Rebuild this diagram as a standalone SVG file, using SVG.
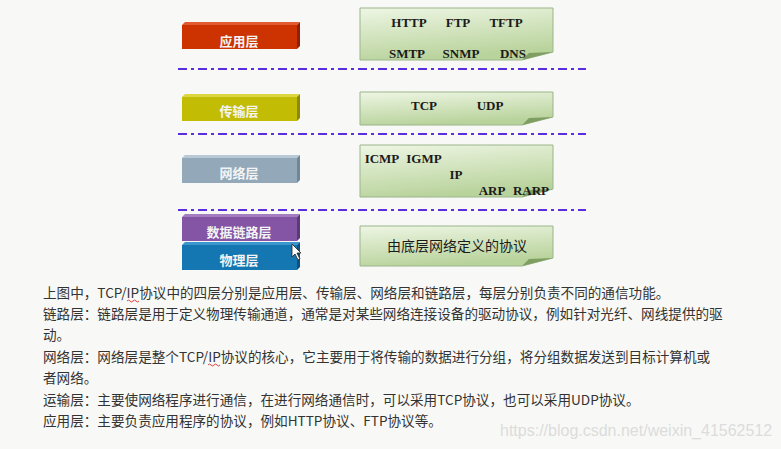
<svg xmlns="http://www.w3.org/2000/svg" width="781" height="449" viewBox="0 0 781 449">
<defs>
<linearGradient id="g" x1="0" y1="0" x2="0.3" y2="1">
<stop offset="0" stop-color="#eef6e4"/>
<stop offset="1" stop-color="#b9d39c"/>
</linearGradient>
<style>
.dash{stroke:#5a2ee0;stroke-width:2;stroke-dasharray:9 4 3 4;fill:none}
.box{fill:url(#g);stroke:#9bb58a;stroke-width:1}
.fold{fill:#7f9f62}
.p{font-family:"Liberation Serif","Times New Roman",serif;font-weight:bold;font-size:13px;fill:#1a1a1a;text-anchor:middle}
.bl{font-family:"Noto Sans CJK SC",sans-serif;font-weight:bold;font-size:13px;fill:#f4f4f4;text-anchor:middle}
.cn{font-family:"Noto Sans CJK SC",sans-serif;font-size:14px;fill:#1a1a1a;text-anchor:middle}
.t{font-family:"Noto Sans CJK SC","Microsoft YaHei",sans-serif;font-size:13.6px;fill:#333}
.wm{font-family:"Liberation Sans",Arial,sans-serif;font-size:16px;fill:#dcdcdc}
</style>
</defs>
<rect width="781" height="449" fill="#f8f9f6"/>

<g id="connectors">
<line class="dash" x1="178" y1="69" x2="586" y2="69"/>
<line class="dash" x1="178" y1="134" x2="586" y2="134"/>
<line class="dash" x1="178" y1="210" x2="586" y2="210"/>
</g>

<g id="app-layer">
<polygon points="182,25 185,22 300,22 297,25" fill="#e25a30"/>
<polygon points="297,25 300,22 300,46 297,49" fill="#8f2000"/>
<rect x="182" y="25" width="115" height="24" fill="#cc3300"/>
<text class="bl" x="239" y="46">应用层</text>
</g>
<g id="transport-layer">
<polygon points="182,97 185,94 300,94 297,97" fill="#dcd640"/>
<polygon points="297,97 300,94 300,118 297,121" fill="#8e8a00"/>
<rect x="182" y="97" width="115" height="24" fill="#c2bc04"/>
<text class="bl" x="239" y="116">传输层</text>
</g>
<g id="network-layer">
<polygon points="182,158 185,155 300,155 297,158" fill="#b8c8d4"/>
<polygon points="297,158 300,155 300,180 297,183" fill="#6f8797"/>
<rect x="182" y="158" width="115" height="25" fill="#93a9b9"/>
<text class="bl" x="239" y="178">网络层</text>
</g>
<g id="link-layer">
<polygon points="182,217 185,214 300,214 297,217" fill="#a47cc0"/>
<polygon points="297,217 300,214 300,238 297,241" fill="#5c3a78"/>
<rect x="182" y="217" width="115" height="24" fill="#8455a4"/>
<text class="bl" x="239" y="237">数据链路层</text>
</g>
<g id="physical-layer">
<polygon points="182,245 185,242 300,242 297,245" fill="#3a96cc"/>
<polygon points="297,245 300,242 300,267 297,270" fill="#0a5080"/>
<rect x="182" y="245" width="115" height="25" fill="#1577b2"/>
<text class="bl" x="239" y="265">物理层</text>
</g>
<g id="cursor">
<polygon points="292,244 292,257 295,254 298,260 300,259 297,253 301,253" fill="#ffffff" stroke="#222" stroke-width="0.8"/>
</g>

<g id="app-protocols">
<path class="box" d="M360,8 H553 V52 L522,60 H360 Z"/>
<polygon class="fold" points="522,60 529,53 553,52"/>
<text class="p" x="409" y="27">HTTP</text>
<text class="p" x="458" y="27">FTP</text>
<text class="p" x="506" y="27">TFTP</text>
<text class="p" x="407" y="58">SMTP</text>
<text class="p" x="461" y="58">SNMP</text>
<text class="p" x="513" y="58">DNS</text>
</g>
<g id="transport-protocols">
<path class="box" d="M360,92 H553 V117 L522,125 H360 Z"/>
<polygon class="fold" points="522,125 529,118 553,117"/>
<text class="p" x="424" y="110">TCP</text>
<text class="p" x="490" y="110">UDP</text>
</g>
<g id="network-protocols">
<path class="box" d="M360,145 H553 V189 L522,197 H360 Z"/>
<polygon class="fold" points="522,197 529,190 553,189"/>
<text class="p" x="382" y="163">ICMP</text>
<text class="p" x="424" y="163">IGMP</text>
<text class="p" x="456" y="179">IP</text>
<text class="p" x="492" y="195">ARP</text>
<text class="p" x="531" y="195">RARP</text>
</g>
<g id="link-protocols">
<path class="box" d="M360,226 H553 V258 L522,266 H360 Z"/>
<polygon class="fold" points="522,266 529,259 553,258"/>
<text class="cn" x="457" y="251">由底层网络定义的协议</text>
</g>

<g id="description">
<text class="t" x="43" y="298">上图中，TCP/IP协议中的四层分别是应用层、传输层、网络层和链路层，每层分别负责不同的通信功能。</text>
<text class="t" x="43" y="319">链路层：链路层是用于定义物理传输通道，通常是对某些网络连接设备的驱动协议，例如针对光纤、网线提供的驱</text>
<text class="t" x="43" y="340">动。</text>
<text class="t" x="43" y="362">网络层：网络层是整个TCP/IP协议的核心，它主要用于将传输的数据进行分组，将分组数据发送到目标计算机或</text>
<text class="t" x="43" y="383">者网络。</text>
<text class="t" x="43" y="405">运输层：主要使网络程序进行通信，在进行网络通信时，可以采用TCP协议，也可以采用UDP协议。</text>
<text class="t" x="43" y="426">应用层：主要负责应用程序的协议，例如HTTP协议、FTP协议等。</text>
<path d="M127,301 q1.5,-2 3,0 t3,0 t3,0 t3,0" fill="none" stroke="#e04040" stroke-width="1"/>
<path d="M208,365 q1.5,-2 3,0 t3,0 t3,0 t3,0" fill="none" stroke="#e04040" stroke-width="1"/>
<text class="wm" x="500" y="436">https://blog.csdn.net/weixin_41562512</text>
</g>
</svg>
